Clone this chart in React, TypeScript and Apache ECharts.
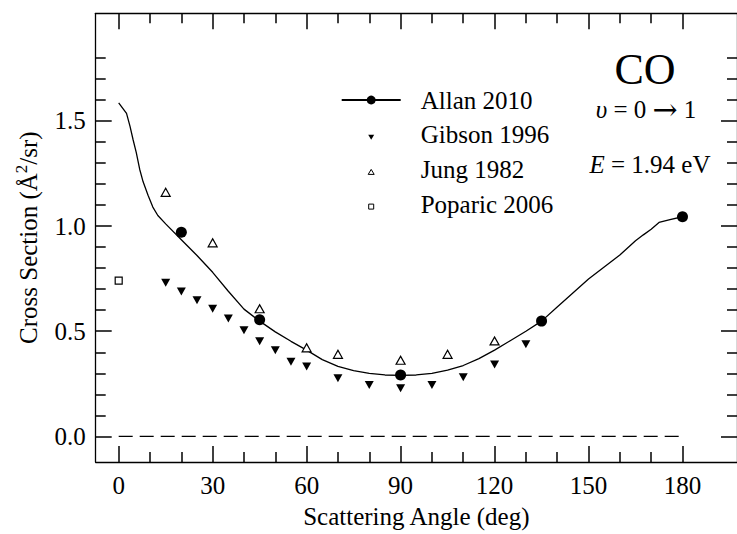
import React, { useEffect, useRef } from 'react';
import * as echarts from 'echarts';

const FONT = 'Liberation Serif';

// Allan 2010 – continuous curve
const allanCurveAngles = [0, 2.5, 3.6, 4.6, 5.6, 6.7, 7.8, 9.4, 10.9, 12.5, 15, 20, 25, 30, 35, 40, 45, 50, 55, 60, 65, 70, 75, 80, 85, 90, 95, 100, 105, 110, 115, 120, 125, 130, 135, 140, 145, 150, 155, 160, 165, 167.5, 170, 172.5, 176, 180];
const allanCurveValues = [1.585, 1.535, 1.475, 1.41, 1.35, 1.27, 1.21, 1.145, 1.09, 1.05, 1.01, 0.935, 0.86, 0.78, 0.69, 0.605, 0.548, 0.497, 0.452, 0.41, 0.365, 0.333, 0.313, 0.3, 0.292, 0.29, 0.292, 0.3, 0.315, 0.337, 0.37, 0.41, 0.455, 0.5, 0.548, 0.615, 0.682, 0.748, 0.805, 0.862, 0.93, 0.958, 0.985, 1.017, 1.03, 1.044];
// Allan 2010 – measured points
const allanPointAngles = [20, 45, 90, 135, 180];
const allanPointValues = [0.97, 0.555, 0.292, 0.548, 1.044];
// Gibson 1996
const gibsonAngles = [15, 20, 25, 30, 35, 40, 45, 50, 55, 60, 70, 80, 90, 100, 110, 120, 130];
const gibsonValues = [0.73, 0.689, 0.647, 0.607, 0.56, 0.505, 0.452, 0.41, 0.355, 0.332, 0.276, 0.244, 0.229, 0.244, 0.281, 0.342, 0.438];
// Jung 1982
const jungAngles = [15, 30, 45, 60, 70, 90, 105, 120];
const jungValues = [1.16, 0.92, 0.607, 0.421, 0.39, 0.362, 0.39, 0.454];
// Poparic 2006
const poparicAngles = [0];
const poparicValues = [0.74];
// zero reference
const zeroLineAngles = [0, 180];
const zeroLineValues = [0, 0];

// ticks
const xMajorTicks = [0, 30, 60, 90, 120, 150, 180];
const xMinorTicks = [10, 20, 40, 50, 70, 80, 100, 110, 130, 140, 160, 170];
const yMajorTicks = [0, 0.5, 1.0, 1.5];
const yMinorTicks = [0.1, 0.2, 0.3, 0.4, 0.6, 0.7, 0.8, 0.9, 1.1, 1.2, 1.3, 1.4, 1.6, 1.7, 1.8];

const X_MIN = -7.34;
const X_MAX = 197.4;
const Y_MIN = -0.1216;
const Y_MAX = 2.011;

const zip = (a: number[], b: number[]) => a.map((v, i) => [v, b[i]]);

const DOWN_TRI = 'path://M0,0 L10,0 L5,8.7 Z';

function makeAxis(kind: 'x' | 'y', position: string, major: boolean, showLine: boolean, extra: any = {}) {
  const isX = kind === 'x';
  return {
    type: 'value',
    position,
    min: isX ? X_MIN : Y_MIN,
    max: isX ? X_MAX : Y_MAX,
    splitLine: { show: false },
    axisLine: { show: showLine, onZero: false, lineStyle: { color: '#000', width: 1.3 } },
    axisTick: {
      show: true,
      inside: true,
      length: major ? 16 : 10,
      customValues: isX ? (major ? xMajorTicks : xMinorTicks) : (major ? yMajorTicks : yMinorTicks),
      lineStyle: { color: '#000', width: 1.5 },
    },
    axisLabel: { show: false },
    silent: true,
    ...extra,
  };
}

export default function App() {
  const ref = useRef<HTMLDivElement>(null);
  useEffect(() => {
    if (!ref.current) return;
    const chart = echarts.init(ref.current, undefined, { renderer: 'svg' });
    const labelStyle = { fontSize: 25, fontFamily: FONT, color: '#000' };
    chart.setOption({
      animation: false,
      color: ['#000'],
      textStyle: { fontFamily: FONT, color: '#000' },
      grid: { left: 95.7, top: 13.3, width: 650, height: 450.7, containLabel: false },
      xAxis: [
        makeAxis('x', 'bottom', true, true, {
          axisLabel: {
            show: true,
            customValues: xMajorTicks,
            margin: 11,
            ...labelStyle,
            formatter: (v: number) => String(v),
          },
          name: 'Scattering Angle (deg)',
          nameLocation: 'middle',
          nameGap: 42,
          nameTextStyle: { ...labelStyle },
        }),
        makeAxis('x', 'bottom', false, false),
        makeAxis('x', 'top', true, true),
        makeAxis('x', 'top', false, false),
      ],
      yAxis: [
        makeAxis('y', 'left', true, true, {
          axisLabel: {
            show: true,
            customValues: yMajorTicks,
            margin: 10,
            ...labelStyle,
            formatter: (v: number) => v.toFixed(1),
          },
          name: '{t|Cross Section (Å}{s|2}{t|/sr)}',
          nameLocation: 'middle',
          nameGap: 52,
          nameTextStyle: {
            ...labelStyle,
            rich: {
              t: { fontSize: 25, fontFamily: FONT, color: '#000' },
              s: { fontSize: 17, fontFamily: FONT, color: '#000', padding: [0, 0, 14, 0] },
            },
          },
        }),
        makeAxis('y', 'left', false, false),
        makeAxis('y', 'right', true, true),
        makeAxis('y', 'right', false, false),
      ],
      legend: {
        orient: 'vertical',
        left: 340.7,
        top: 87.5,
        padding: 0,
        itemWidth: 59,
        itemHeight: 11,
        itemGap: 9.7,
        selectedMode: false,
        symbolKeepAspect: true,
        textStyle: { fontSize: 25, fontFamily: FONT, color: '#000', padding: [0, 0, 0, 15] },
        data: [
          { name: 'Allan 2010' },
          { name: 'Gibson 1996', icon: 'path://M0,0 M11,11 M2.5,5.5 L8.5,5.5 L5.5,10.5 Z', itemStyle: { color: '#000', borderWidth: 0, opacity: 1 } },
          { name: 'Jung 1982', icon: 'path://M0,0 M11,11 M2.5,10.5 L8.5,10.5 L5.5,5.5 Z', itemStyle: { color: '#fff', borderColor: '#000', borderWidth: 1, opacity: 1 } },
          { name: 'Poparic 2006', icon: 'path://M0,0 M11,11 M3,5.5 L8,5.5 L8,10.5 L3,10.5 Z', itemStyle: { color: '#fff', borderColor: '#000', borderWidth: 1, opacity: 1 } },
        ],
      },
      graphic: [
        {
          type: 'text',
          x: 645,
          y: 69,
          silent: true,
          style: { text: 'CO', fontSize: 44, fontFamily: FONT, fill: '#000', textAlign: 'center', textVerticalAlign: 'middle', align: 'center', verticalAlign: 'middle' },
        },
        {
          type: 'text',
          x: 646,
          y: 109,
          silent: true,
          style: {
            text: '{i|υ} = 0 {a|→} 1',
            fontSize: 25,
            fontFamily: FONT,
            fill: '#000',
            textAlign: 'center', textVerticalAlign: 'middle', align: 'center', verticalAlign: 'middle',
            rich: {
              i: { fontStyle: 'italic', fontSize: 25, fontFamily: FONT, fill: '#000' },
              a: { fontSize: 30, fontFamily: 'DejaVu Serif', fill: '#000' },
            },
          },
        },
        {
          type: 'text',
          x: 650,
          y: 164,
          silent: true,
          style: {
            text: '{i|E} = 1.94 eV',
            fontSize: 25,
            fontFamily: FONT,
            fill: '#000',
            textAlign: 'center', textVerticalAlign: 'middle', align: 'center', verticalAlign: 'middle',
            rich: { i: { fontStyle: 'italic', fontSize: 25, fontFamily: FONT, fill: '#000' } },
          },
        },
      ],
      series: [
        {
          type: 'line',
          name: 'zero',
          data: zip(zeroLineAngles, zeroLineValues),
          symbol: 'none',
          silent: true,
          lineStyle: { color: '#000', width: 1.2, type: [14, 7] },
          z: 1,
        },
        {
          type: 'line',
          name: 'Allan 2010',
          data: zip(allanCurveAngles, allanCurveValues),
          symbol: 'circle',
          symbolSize: 11,
          showSymbol: false,
          silent: true,
          itemStyle: { color: '#000', opacity: 1 },
          lineStyle: { color: '#000', width: 1.3 },
          z: 2,
        },
        {
          type: 'scatter',
          name: 'Allan 2010 points',
          data: zip(allanPointAngles, allanPointValues),
          symbol: 'circle',
          symbolSize: 11,
          silent: true,
          itemStyle: { color: '#000', opacity: 1 },
          z: 3,
        },
        {
          type: 'scatter',
          name: 'Gibson 1996',
          data: zip(gibsonAngles, gibsonValues),
          symbol: DOWN_TRI,
          symbolSize: [9, 8],
          silent: true,
          itemStyle: { color: '#000', opacity: 1 },
          z: 3,
        },
        {
          type: 'scatter',
          name: 'Jung 1982',
          data: zip(jungAngles, jungValues),
          symbol: 'triangle',
          symbolSize: [9, 8],
          silent: true,
          itemStyle: { color: '#fff', borderColor: '#000', borderWidth: 1.2, opacity: 1 },
          z: 3,
        },
        {
          type: 'scatter',
          name: 'Poparic 2006',
          data: zip(poparicAngles, poparicValues),
          symbol: 'rect',
          symbolSize: 7,
          silent: true,
          itemStyle: { color: '#fff', borderColor: '#000', borderWidth: 1.2, opacity: 1 },
          z: 3,
        },
      ],
    });
    return () => chart.dispose();
  }, []);
  return <div ref={ref} style={{ position: 'fixed', left: 0, top: 0, width: 737, height: 534, background: '#fff' }} />;
}
